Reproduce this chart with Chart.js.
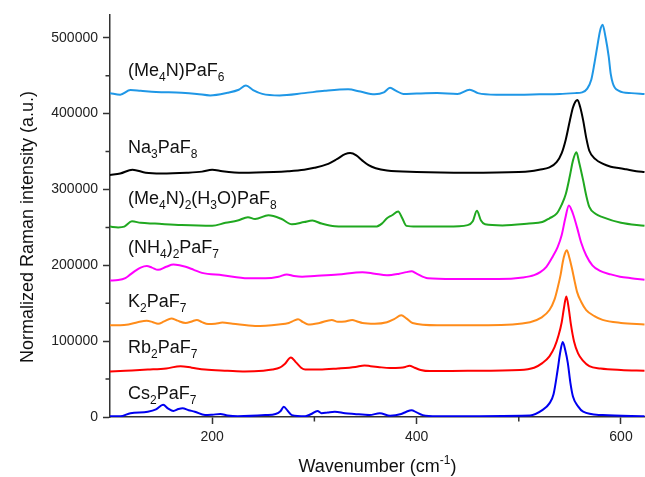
<!DOCTYPE html>
<html lang="en">
<head>
<meta charset="UTF-8" />
<title>Raman spectra of Pa fluorides</title>
<script src="https://cdn.jsdelivr.net/npm/chart.js"></script>
<style>
  body { margin: 0; background: #fff; }
  #wrap { width: 645px; height: 477px; }
</style>
</head>
<body>
<div id="wrap"><canvas id="raman" width="645" height="477"></canvas></div>
<script>
  // spectra, [wavenumber, intensity]
  const me4nPaF6 = [[100,427000],[110,425000],[120,431000],[130,430000],[145,428500],[170,427500],[185,426000],[198,424000],[215,427500],[226,431500],[233,437000],[240,431000],[249,426000],[266,424000],[290,427000],[310,430000],[333,432000],[345,429000],[359,425500],[368,428000],[374,434000],[380,430000],[387,426000],[400,426500],[420,427000],[440,426000],[452,431500],[460,427000],[478,425000],[500,425000],[520,425500],[540,426000],[555,427000],[562,428000],[567,433000],[571,445000],[574,466000],[577,490000],[579.5,509000],[582,517000],[585,500000],[588,475000],[590,452000],[592,440000],[594,434000],[598,430000],[602,428000],[610,427000],[623,426000]];
  const na3PaF8 = [[100,319000],[110,321000],[122,326000],[135,322000],[150,321000],[175,322000],[190,323500],[200,326000],[210,324000],[230,322000],[260,323000],[274,324000],[290,326000],[300,328500],[312,333000],[322,340000],[330,346500],[335,348000],[341,345000],[347,338000],[353,332000],[360,328000],[371,325000],[400,323000],[450,322000],[500,323000],[511,324000],[520,326000],[530,329000],[537,336000],[542,348000],[546,366000],[550,391000],[553,408000],[555.5,416000],[557.5,418000],[560,409000],[563,391000],[566,368000],[569,351000],[575,340000],[582,334000],[590,330000],[599,328000],[605,326500],[615,324000],[623,323000]];
  const me4n2h3oPaF8 = [[100,251000],[108,250000],[114,251000],[121.5,258000],[130,256000],[144,255000],[170,253000],[200,252000],[213,256000],[225,259000],[235,263500],[242,261000],[255,266000],[268,261000],[278,254000],[290,257000],[298,259000],[307,255000],[320,251500],[340,251000],[360,251000],[366,255000],[371,262000],[376,266000],[382,271000],[386,262000],[390,252000],[400,251000],[430,251000],[450,253000],[455,258000],[459,272000],[463,259000],[467,254000],[484,252500],[510,255000],[523,257000],[530,262000],[537,268000],[542,280000],[546,294000],[550,318000],[553,338000],[556.4,349000],[559,336000],[563,312000],[566,292000],[569,277000],[575,268000],[582,263500],[600,256000],[623,252000]];
  const nh42PaF7 = [[100,180000],[108,180500],[115,183000],[120,188000],[125,193000],[130,197000],[136,199000],[141,197000],[147,194000],[155,198000],[162,201000],[168,200000],[174,198000],[182,194000],[190,190000],[210,187000],[235,183000],[252,183000],[265,185000],[273,188000],[280,186000],[288,185000],[300,186000],[323,188000],[347,191000],[359,189000],[371,187000],[383,189000],[390,191000],[395,192000],[400,189000],[411,183000],[436,182000],[480,182000],[504,184000],[515,187000],[521,191000],[527,198000],[533,211000],[538,224000],[542,240000],[545.5,262000],[549,279000],[553,268000],[557,250000],[561,230000],[566,213000],[572,200000],[579,193000],[590,188000],[599,185000],[610,183000],[623,181000]];
  const k2PaF7 = [[100,121000],[110,121000],[118,122000],[127,125000],[136,127000],[142,125000],[147,123000],[153,126000],[160,130000],[166,127000],[174,124000],[180,126000],[185,128000],[190,125000],[196,122500],[203,123000],[210,124500],[220,123000],[242,120000],[265,122000],[275,124000],[280,127000],[284,129000],[289,125000],[294,122000],[305,124000],[317,128000],[323,125500],[330,126000],[337,128000],[342,126000],[347,124000],[359,123000],[371,125000],[378,129000],[385,134000],[390,130000],[396,124000],[420,121000],[470,121000],[511,125000],[522,131000],[530,141000],[535,155000],[538,170000],[541,188000],[543,204000],[545,215000],[547,220000],[549.5,210000],[552,196000],[554.5,180000],[557,165000],[561,152000],[566,141000],[574,133000],[582,128000],[600,124000],[623,122000]];
  const rb2PaF7 = [[100,60000],[115,61000],[137,62500],[155,64000],[169,67000],[180,65000],[193,62500],[215,61000],[232,60000],[250,61000],[259,62500],[266,65000],[271,70000],[277,78500],[282,72000],[287,65000],[291,62500],[305,62500],[323,64000],[340,66000],[349,68000],[355,67000],[362,66000],[374,64500],[384,65000],[389,66000],[393,67500],[398,65000],[404,62000],[413,60500],[450,61000],[501,62000],[515,65000],[523,71000],[530,80000],[535,92000],[539,108000],[542,125000],[544,142000],[546.5,159000],[549,142000],[551,122000],[554,100000],[558,84000],[563,74000],[569,67000],[580,64000],[600,62000],[623,61000]];
  const cs2PaF7 = [[100,1000],[110,1000],[120,5000],[137,7000],[145,10000],[152,16000],[157,11000],[162,8000],[167,10500],[171,11500],[177,9000],[183,7000],[193,2500],[200,3000],[208,4000],[215,2000],[225,1000],[252,2500],[262,4000],[267,8000],[270,13500],[274,8000],[278,2500],[291,1000],[297,4000],[303,8000],[307,5000],[313,6000],[320,7000],[330,5000],[339,4000],[354,2600],[364,5000],[374,1700],[385,4000],[390,7000],[395,9000],[400,6000],[406,2500],[420,1000],[511,2000],[523,9000],[530,18000],[534,30000],[538,62000],[540.5,85000],[543,99000],[545.5,88000],[548,71000],[550.5,45000],[553,27000],[558,14000],[563,7000],[582,2500],[623,1000]];

  const spectra = [me4nPaF6, na3PaF8, me4n2h3oPaF8, nh42PaF7, k2PaF7, rb2PaF7, cs2PaF7];
  const seriesNames = [
    '(Me<sub>4</sub>N)PaF<sub>6</sub>',
    'Na<sub>3</sub>PaF<sub>8</sub>',
    '(Me<sub>4</sub>N)<sub>2</sub>(H<sub>3</sub>O)PaF<sub>8</sub>',
    '(NH<sub>4</sub>)<sub>2</sub>PaF<sub>7</sub>',
    'K<sub>2</sub>PaF<sub>7</sub>',
    'Rb<sub>2</sub>PaF<sub>7</sub>',
    'Cs<sub>2</sub>PaF<sub>7</sub>'
  ];
  const xTickValues = [200, 400, 600];
  const yTickValues = [0, 100000, 200000, 300000, 400000, 500000];
  const xMinorTicks = [300, 500];
  const yMinorTicks = [50000, 150000, 250000, 350000, 450000];

  const colors = ['#1f97e6', '#000000', '#20a820', '#ff00ff', '#ff8c1a', '#ff0000', '#0000f0'];
  const labelBaselines = [76, 153, 204, 253, 307, 353, 399];
  const FONT = 'Arial, "Liberation Sans", sans-serif';
  const AXIS = '#333';

  // draws a string with <sub>/<sup> parts, returns its width (draw=false only measures)
  function richText(ctx, str, x, y, size, draw) {
    let w = 0;
    str.split(/(<su[bp]>.*?<\/su[bp]>)/).forEach(part => {
      if (!part) return;
      const sub = part.startsWith('<sub>');
      const sup = part.startsWith('<sup>');
      const txt = (sub || sup) ? part.slice(5, -6) : part;
      ctx.font = ((sub || sup) ? Math.round(size * 0.68) : size) + 'px ' + FONT;
      const dy = sub ? size * 0.3 : (sup ? -size * 0.42 : 0);
      if (draw) ctx.fillText(txt, x + w, y + dy);
      w += ctx.measureText(txt).width;
    });
    return w;
  }

  const decorations = {
    id: 'decorations',
    afterDraw(chart) {
      const ctx = chart.ctx;
      const xs = chart.scales.x, ys = chart.scales.y;
      const area = chart.chartArea;
      ctx.save();
      // minor ticks
      ctx.strokeStyle = AXIS;
      ctx.lineWidth = 1.5;
      ctx.beginPath();
      xMinorTicks.forEach(v => {
        const px = xs.getPixelForValue(v);
        ctx.moveTo(px, area.bottom); ctx.lineTo(px, area.bottom + 4.5);
      });
      yMinorTicks.forEach(v => {
        const py = ys.getPixelForValue(v);
        ctx.moveTo(area.left, py); ctx.lineTo(area.left - 4.5, py);
      });
      ctx.stroke();

      // series labels
      ctx.fillStyle = '#111';
      ctx.textAlign = 'left';
      ctx.textBaseline = 'alphabetic';
      seriesNames.forEach((name, i) => richText(ctx, name, 128, labelBaselines[i], 18, true));

      // axis titles
      const xt = 'Wavenumber (cm<sup>-1</sup>)';
      const wx = richText(ctx, xt, 0, 0, 18, false);
      richText(ctx, xt, (area.left + area.right) / 2 - wx / 2, 472, 18, true);

      ctx.translate(28, 227);
      ctx.rotate(-Math.PI / 2);
      ctx.textAlign = 'center';
      ctx.textBaseline = 'middle';
      ctx.font = '18px ' + FONT;
      ctx.fillText('Normalized Raman intensity (a.u.)', 0, 0);
      ctx.restore();
    }
  };

  new Chart(document.getElementById('raman'), {
    type: 'scatter',
    data: {
      datasets: spectra.map((s, i) => ({
        label: seriesNames[i],
        data: s.map(p => ({ x: p[0], y: p[1] })),
        showLine: true,
        borderColor: colors[i],
        borderWidth: 2,
        pointRadius: 0,
        cubicInterpolationMode: 'monotone',
        fill: false
      }))
    },
    options: {
      responsive: false,
      animation: false,
      layout: { padding: { top: 15, right: 0, bottom: 0, left: 0 } },
      plugins: { legend: { display: false }, tooltip: { enabled: false } },
      scales: {
        x: {
          type: 'linear',
          min: 100,
          max: 623.5,
          afterFit: s => { s.height = 60; },
          afterBuildTicks: s => { s.ticks = xTickValues.map(v => ({ value: v })); },
          ticks: { maxRotation: 0, padding: 5, color: '#222', font: { size: 14, family: FONT } },
          grid: { drawOnChartArea: false, tickLength: 7, tickColor: AXIS, tickWidth: 1.5 },
          border: { color: AXIS, width: 1.5 }
        },
        y: {
          min: 0,
          max: 530000,
          afterFit: s => { s.width = 110; },
          afterBuildTicks: s => { s.ticks = yTickValues.map(v => ({ value: v })); },
          ticks: { padding: 5, color: '#222', font: { size: 14, family: FONT }, callback: v => String(v) },
          grid: { drawOnChartArea: false, tickLength: 7, tickColor: AXIS, tickWidth: 1.5 },
          border: { color: AXIS, width: 1.5 }
        }
      }
    },
    plugins: [decorations]
  });
</script>
</body>
</html>
